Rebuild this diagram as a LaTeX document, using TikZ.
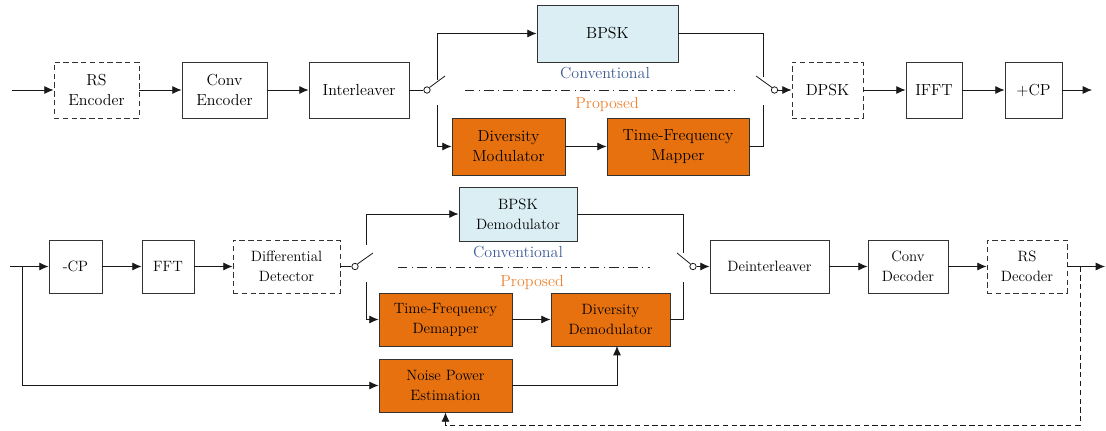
\documentclass[tikz,border=0pt]{standalone}
\usetikzlibrary{arrows.meta}
\definecolor{lblue}{HTML}{DAEEF3}
\definecolor{orng}{HTML}{E8710F}
\definecolor{proptxt}{HTML}{EE8230}
\definecolor{convtxt}{HTML}{3D5C94}
\tikzset{
  blk/.style 2 args={draw=black!80, line width=0.6pt, minimum width=#1*0.75pt, minimum height=#2*0.75pt, inner sep=0pt, align=center, font=\fontsize{12}{15}\selectfont},
  sblk/.style 2 args={blk={#1}{#2}, font=\fontsize{11.2}{15}\selectfont},
  dsh/.style={dash pattern=on 4pt off 2.6pt},
  blu/.style={fill=lblue},
  org/.style={fill=orng},
  ln/.style={line width=0.6pt, draw=black!90},
  arr/.style={ln, -{Latex[length=7pt,width=6pt]}},
  sw/.style={draw=black!90, line width=0.6pt, fill=white, circle, inner sep=0pt, minimum size=4.8pt},
  ddot/.style={line width=0.6pt, draw=black!85, dash pattern=on 7pt off 3.2pt on 1pt off 3.2pt},
  lab/.style={font=\fontsize{12}{14}\selectfont, inner sep=0pt}
}
\begin{document}
\begin{tikzpicture}[x=0.75pt,y=-0.75pt]
\useasboundingbox (0,0) rectangle (1106,431);
% ---------- top row ----------
\node[blk={85}{56}, dsh] (rsenc) at (96.5,90) {RS\\Encoder};
\node[blk={85}{56}] (convenc) at (224.5,90) {Conv\\Encoder};
\node[blk={100}{56}] (inter) at (359,90) {Interleaver};
\node[blk={141}{57}, blu] (bpsk) at (607.5,33.5) {BPSK};
\node[blk={113}{57}, org] (divmod) at (508.5,146.5) {Diversity\\Modulator};
\node[blk={142}{57}, org] (tfmap) at (678,146.5) {Time-Frequency\\Mapper};
\node[blk={71}{56}, dsh] (dpsk) at (827.5,90) {DPSK};
\node[blk={56}{56}] (ifft) at (934,90) {IFFT};
\node[blk={57}{56}] (addcp) at (1033.5,90) {+CP};
\coordinate (tin) at (12,90);
\coordinate (tout) at (1092,90);
\node[sw] (s1) at (427,90) {};
\node[sw] (s2) at (774.5,90) {};
\coordinate (s1b) at (445,76);
\coordinate (s2b) at (756,76);
\coordinate (t1u) at (437,80);
\coordinate (t1d) at (437,105);
\coordinate (t2u) at (763,77);
\coordinate (t2d) at (763,105);
\coordinate (dd1a) at (465,90);
\coordinate (dd1b) at (735,90);

\draw[arr] (tin) -- (rsenc);
\draw[arr] (rsenc) -- (convenc);
\draw[arr] (convenc) -- (inter);
\draw[ln] (inter) -- (s1);
\draw[ln] (s1.45) -- (s1b);
\draw[arr] (t1u) |- (bpsk);
\draw[arr] (t1d) |- (divmod);
\draw[arr] (divmod) -- (tfmap);
\draw[ln] (bpsk) -| (t2u);
\draw[ln] (tfmap) -| (t2d);
\draw[ln] (s2b) -- (s2.135);
\draw[arr] (s2) -- (dpsk);
\draw[arr] (dpsk) -- (ifft);
\draw[arr] (ifft) -- (addcp);
\draw[arr] (addcp) -- (tout);
\draw[ddot] (dd1a) -- (dd1b);
\node[lab, text=convtxt] (conv1) at (605,73) {Conventional};
\node[lab, text=proptxt] (prop1) at (607,105) {Proposed};

% ---------- bottom row ----------
\node[sblk={53}{53}] (rmcp) at (75.5,266.5) {-CP};
\node[sblk={52}{53}] (fft) at (168,266.5) {FFT};
\node[sblk={107}{53}, dsh] (diffdet) at (286.5,266.5) {Differential\\Detector};
\node[sblk={118}{54}, blu] (bpskdem) at (518,214) {BPSK\\Demodulator};
\node[sblk={133}{53}, org] (tfdemap) at (445.5,319.5) {Time-Frequency\\Demapper};
\node[sblk={119}{53}, org] (divdem) at (610.5,319.5) {Diversity\\Demodulator};
\node[sblk={133}{53}, org] (npe) at (445.5,385.5) {Noise Power\\Estimation};
\node[sblk={119}{53}] (deint) at (769.5,266.5) {Deinterleaver};
\node[sblk={80}{53}] (convdec) at (908,266.5) {Conv\\Decoder};
\node[sblk={80}{53}, dsh] (rsdec) at (1027,266.5) {RS\\Decoder};
\coordinate (bin) at (10,266.5);
\coordinate (bsplit) at (22,266.5);
\coordinate (bout) at (1105,266.5);
\coordinate (fbs) at (1080,266.5);
\coordinate (fbc) at (1080,425);
\coordinate (fbe) at (445.5,425);
\coordinate (npeto) at (617,385.5);
\coordinate (divin) at (617,346);
\node[sw] (s3) at (355,266.5) {};
\node[sw] (s4) at (693,266.5) {};
\coordinate (s3b) at (373,253);
\coordinate (s4b) at (677,253);
\coordinate (b1u) at (366,245);
\coordinate (b1d) at (366,282);
\coordinate (b2u) at (683,253);
\coordinate (b2d) at (683,282);
\coordinate (dd2a) at (398,267);
\coordinate (dd2b) at (650,267);

\draw[arr] (bin) -- (rmcp);
\draw[arr] (rmcp) -- (fft);
\draw[arr] (fft) -- (diffdet);
\draw[ln] (diffdet) -- (s3);
\draw[ln] (s3.45) -- (s3b);
\draw[arr] (b1u) |- (bpskdem);
\draw[arr] (b1d) |- (tfdemap);
\draw[arr] (tfdemap) -- (divdem);
\draw[ln] (bpskdem) -| (b2u);
\draw[ln] (divdem) -| (b2d);
\draw[ln] (s4b) -- (s4.135);
\draw[arr] (s4) -- (deint);
\draw[arr] (deint) -- (convdec);
\draw[arr] (convdec) -- (rsdec);
\draw[arr] (rsdec) -- (bout);
\draw[arr] (bsplit) |- (npe);
\draw[ln] (npe) -- (npeto);
\draw[arr] (npeto) -- (divin);
\draw[arr, dsh] (fbs) -- (fbc) -- (fbe) -- (npe.south);
\draw[ddot] (dd2a) -- (dd2b);
\node[lab, text=convtxt] (conv2) at (518,252) {Conventional};
\node[lab, text=proptxt] (prop2) at (532,282) {Proposed};
\end{tikzpicture}
\end{document}
